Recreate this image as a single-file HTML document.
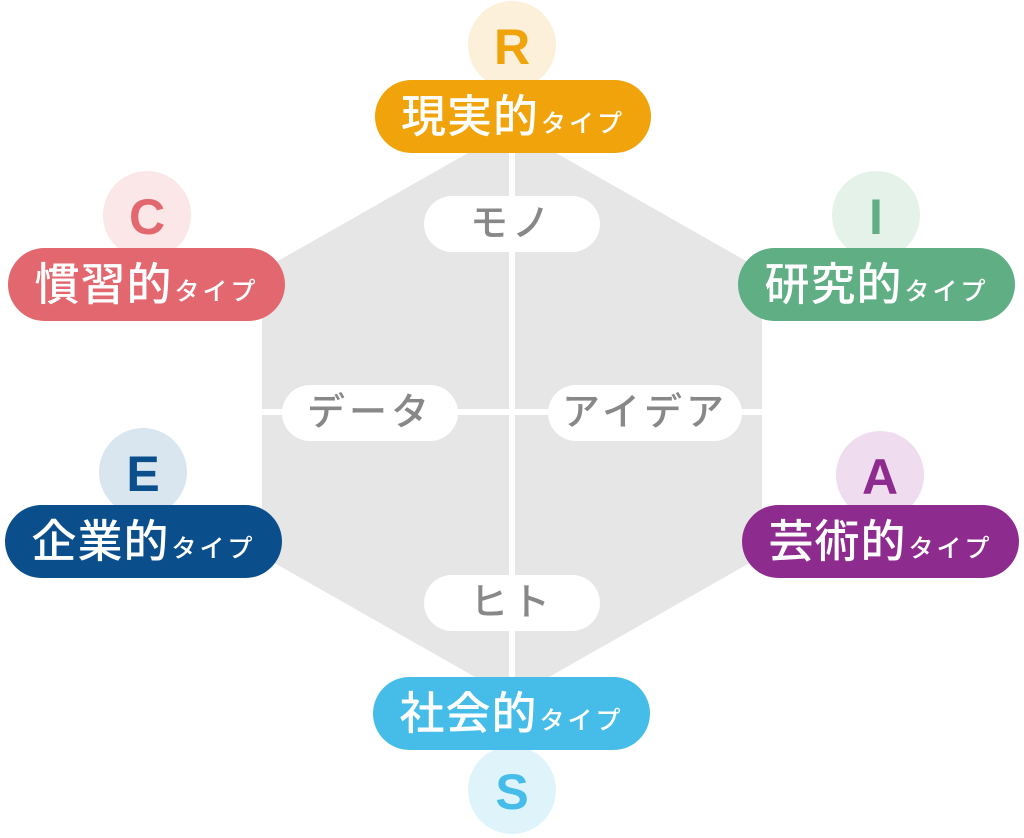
<!DOCTYPE html>
<html><head><meta charset="utf-8"><style>
body{margin:0;width:1024px;height:834px;background:#fff;position:relative;overflow:hidden;font-family:"Liberation Sans","Noto Sans CJK JP",sans-serif}
.c{position:absolute;width:88px;height:88px;border-radius:50%;text-align:center;line-height:92px;font-size:50px;font-weight:bold}
.p{position:absolute;height:73px;border-radius:37px;color:#fff;text-align:center;line-height:73px;font-size:45px;font-weight:500;white-space:nowrap;letter-spacing:1px}
.p small{font-size:25px;margin-left:2px;letter-spacing:3px}
.w{position:absolute;height:56px;border-radius:28px;background:#fff;color:#888;text-align:center;line-height:56px;font-size:38px;font-weight:500;letter-spacing:4px}
</style></head><body>
<svg width="1024" height="834" style="position:absolute;left:0;top:0">
<polygon points="512,128 762,270 762,556 512,698 262,556 262,270" fill="#e6e6e6"/>
<rect x="509" y="148" width="6" height="540" fill="#fff"/>
<rect x="262" y="409" width="500" height="6" fill="#fff"/>
</svg>
<div class="c" style="left:468px;top:1px;background:#fdf0da;color:#f0a30a">R</div>
<div class="c" style="left:103px;top:171px;background:#fbe6e8;color:#e2676f">C</div>
<div class="c" style="left:832px;top:171px;background:#e4f2ea;color:#5fae84">I</div>
<div class="c" style="left:99px;top:428px;background:#d9e5ef;color:#0a4f8c">E</div>
<div class="c" style="left:836px;top:431px;background:#efdcee;color:#8e2b8e">A</div>
<div class="c" style="left:468px;top:746px;background:#dff3fb;color:#45bde8">S</div>
<div class="p" style="left:375px;top:80px;width:276px;background:#f0a30a">現実的<small>タイプ</small></div>
<div class="p" style="left:8px;top:248px;width:277px;background:#e2676f">慣習的<small>タイプ</small></div>
<div class="p" style="left:738px;top:248px;width:277px;background:#5fae84">研究的<small>タイプ</small></div>
<div class="p" style="left:5px;top:505px;width:277px;background:#0a4f8c">企業的<small>タイプ</small></div>
<div class="p" style="left:742px;top:505px;width:277px;background:#8e2b8e">芸術的<small>タイプ</small></div>
<div class="p" style="left:373px;top:677px;width:277px;background:#45bde8">社会的<small>タイプ</small></div>
<div class="w" style="left:424px;top:196px;width:176px">モノ</div>
<div class="w" style="left:282px;top:385px;width:176px">データ</div>
<div class="w" style="left:548px;top:385px;width:194px">アイデア</div>
<div class="w" style="left:424px;top:575px;width:176px">ヒト</div>
</body></html>
